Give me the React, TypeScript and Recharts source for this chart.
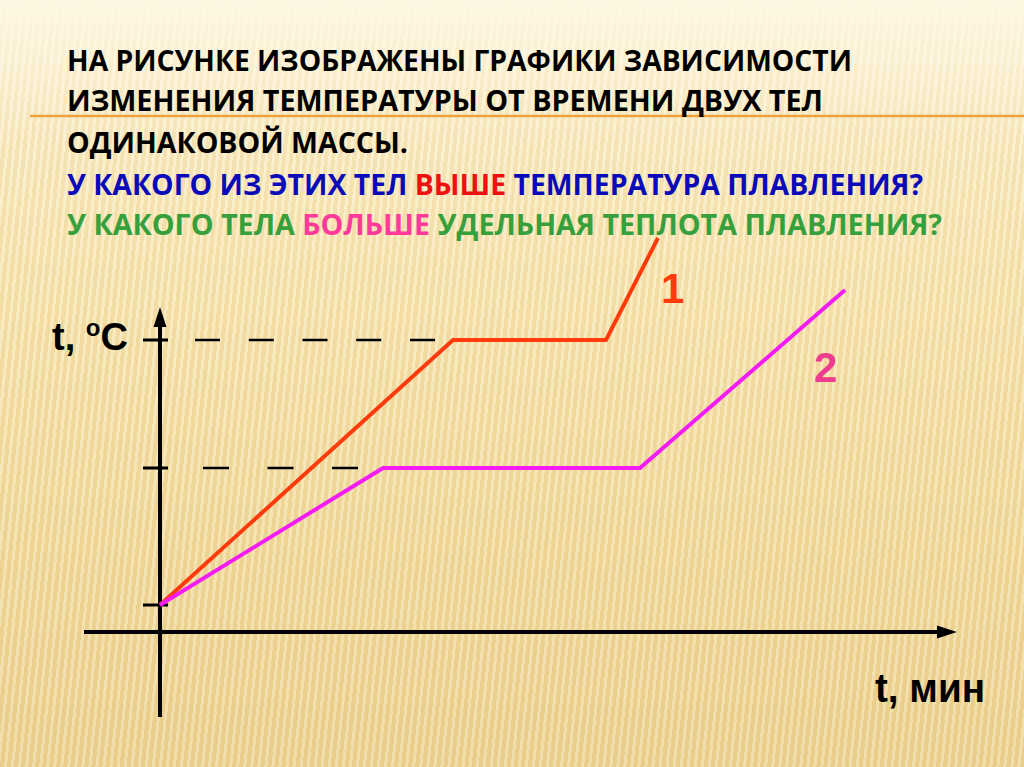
import React from 'react';
import { LineChart, Line, XAxis, YAxis, ReferenceLine } from 'recharts';

// time (min) / temperature for the two bodies
const body1Time = [0, 29.3, 44.6, 49.8];
const body1Temp = [2.7, 29.2, 29.2, 39.4];
const body2Time = [0, 22.3, 48, 68.5];
const body2Temp = [2.7, 16.4, 16.4, 34.2];

// start temperature, melting point of body 2, melting point of body 1
const levels = [2.7, 16.4, 29.2];
// how far the dashed guide runs for each level (minutes)
const guideFrom = [null, 4.3, 3.5];
const guideTo = [null, 19.8, 27.5];
const guideDash = ['', '26 38.5', '25 28.75'];

const body1 = body1Time.map((t, i) => ({ t, temp: body1Temp[i] }));
const body2 = body2Time.map((t, i) => ({ t, temp: body2Temp[i] }));

const titleFont = '"Open Sans", "DejaVu Sans", sans-serif';
const labelFont = '"Liberation Sans", Arial, sans-serif';

const Arrow = (props: any) => {
  const { x1, y1, x2, y2 } = props;
  const a = Math.atan2(y2 - y1, x2 - x1);
  const len = 20;
  const half = 6.5;
  const bx = x2 - len * Math.cos(a);
  const by = y2 - len * Math.sin(a);
  const pts = [
    `${x2},${y2}`,
    `${bx - half * Math.sin(a)},${by + half * Math.cos(a)}`,
    `${bx + half * Math.sin(a)},${by - half * Math.cos(a)}`,
  ].join(' ');
  return (
    <g>
      <line x1={x1} y1={y1} x2={bx + 2 * Math.cos(a)} y2={by + 2 * Math.sin(a)} stroke="#000" strokeWidth={4} />
      <polygon points={pts} fill="#000" />
    </g>
  );
};

const App = () => {
  return (
    <div
      style={{
        position: 'absolute',
        left: 0,
        top: 0,
        width: 1024,
        height: 767,
        overflow: 'hidden',
        background: [
          'linear-gradient(to bottom, rgba(254,248,228,0.95) 0px, rgba(254,248,228,0.4) 70px, rgba(254,248,228,0) 140px)',
          'repeating-linear-gradient(96deg, rgba(255,255,255,0.25) 0px, rgba(255,255,255,0.25) 3px, rgba(190,150,60,0.09) 3px, rgba(190,150,60,0.09) 7px)',
          'linear-gradient(to bottom, #fcf1d2 0%, #f8e5b0 35%, #f2da9b 70%, #edd290 100%)',
        ].join(', '),
      }}
    >
      <svg width={1024} height={767} style={{ position: 'absolute', left: 0, top: 0 }}>
        <line x1={30} y1={116} x2={1024} y2={116} stroke="#eea33a" strokeWidth={2.5} />
        <g fontFamily={titleFont} fontWeight={700} fontSize={29}>
          <text x={67} y={71} fill="#000" textLength={785} lengthAdjust="spacingAndGlyphs">
            НА РИСУНКЕ ИЗОБРАЖЕНЫ ГРАФИКИ ЗАВИСИМОСТИ
          </text>
          <text x={67} y={111} fill="#000" textLength={756} lengthAdjust="spacingAndGlyphs">
            ИЗМЕНЕНИЯ ТЕМПЕРАТУРЫ ОТ ВРЕМЕНИ ДВУХ ТЕЛ
          </text>
          <text x={67} y={153} fill="#000" textLength={341} lengthAdjust="spacingAndGlyphs">
            ОДИНАКОВОЙ МАССЫ.
          </text>
          <text x={67} y={195} fill="#0a0ab8" textLength={856} lengthAdjust="spacingAndGlyphs">
            У КАКОГО ИЗ ЭТИХ ТЕЛ <tspan fill="#ee1111">ВЫШЕ</tspan> ТЕМПЕРАТУРА ПЛАВЛЕНИЯ?
          </text>
          <text x={67} y={235} fill="#36a03c" textLength={875} lengthAdjust="spacingAndGlyphs">
            У КАКОГО ТЕЛА <tspan fill="#ff3a9a">БОЛЬШЕ</tspan> УДЕЛЬНАЯ ТЕПЛОТА ПЛАВЛЕНИЯ?
          </text>
        </g>
      </svg>

      <div style={{ position: 'absolute', left: 0, top: 0 }}>
        <LineChart width={1024} height={767} margin={{ top: 230, right: 64, bottom: 135, left: 160 }}>
          <XAxis type="number" dataKey="t" domain={[0, 80]} hide />
          <YAxis type="number" dataKey="temp" domain={[0, 40.2]} hide />

          {levels.map((lv, i) => (
            <ReferenceLine
              key={`tick-${i}`}
              segment={[{ x: -1.7, y: lv }, { x: 0.8, y: lv }]}
              stroke="#000"
              strokeWidth={3}
              ifOverflow="visible"
            />
          ))}
          {levels.map((lv, i) =>
            guideFrom[i] === null ? null : (
              <ReferenceLine
                key={`guide-${i}`}
                segment={[{ x: guideFrom[i] as number, y: lv }, { x: guideTo[i] as number, y: lv }]}
                stroke="#000"
                strokeWidth={2.5}
                strokeDasharray={guideDash[i]}
                ifOverflow="visible"
              />
            )
          )}

          <ReferenceLine
            segment={[{ x: 0, y: -8.5 }, { x: 0, y: 32.5 }]}
            ifOverflow="visible"
            shape={Arrow}
          />
          <ReferenceLine
            segment={[{ x: -7.6, y: 0 }, { x: 79.7, y: 0 }]}
            ifOverflow="visible"
            shape={Arrow}
          />

          <Line
            data={body1}
            dataKey="temp"
            type="linear"
            stroke="#ff3a0c"
            strokeWidth={4}
            dot={false}
            activeDot={false}
            isAnimationActive={false}
          />
          <Line
            data={body2}
            dataKey="temp"
            type="linear"
            stroke="#f41cf4"
            strokeWidth={4}
            dot={false}
            activeDot={false}
            isAnimationActive={false}
          />
        </LineChart>
      </div>

      <svg width={1024} height={767} style={{ position: 'absolute', left: 0, top: 0, pointerEvents: 'none' }}>
        <g fontFamily={labelFont} fontWeight={700}>
          <text x={661} y={303} fontSize={42} fill="#ff3a0c">1</text>
          <text x={814} y={382} fontSize={42} fill="#ee3d8f">2</text>
          <text x={52} y={350} fontSize={38} fill="#000">
            t, <tspan fontSize={24} dy={-14}>o</tspan>
            <tspan dy={14}>C</tspan>
          </text>
          <text x={875} y={702} fontSize={40} fill="#000" textLength={110} lengthAdjust="spacingAndGlyphs">
            t, мин
          </text>
        </g>
      </svg>
    </div>
  );
};

export default App;
